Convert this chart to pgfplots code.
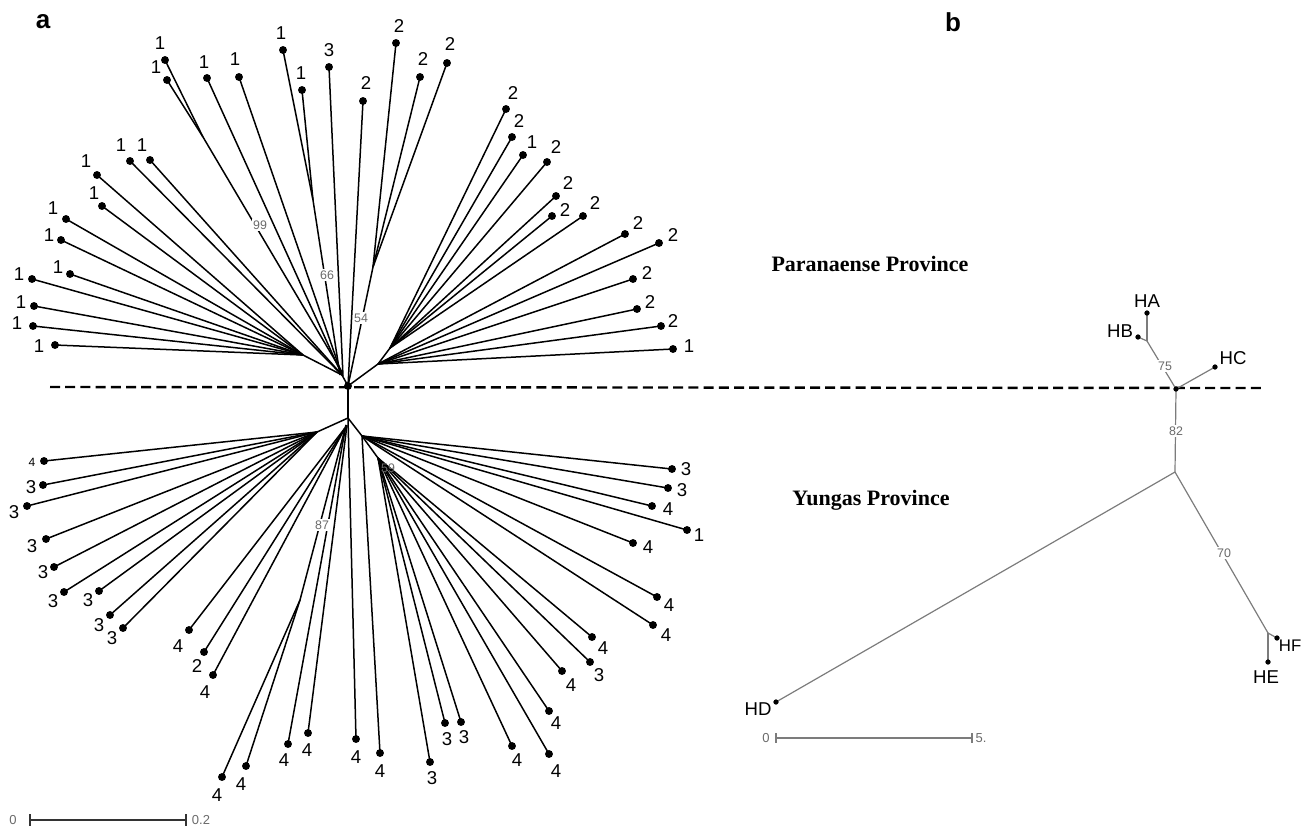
\documentclass[border=0pt]{standalone}
\usepackage{pgfplots}
\pgfplotsset{compat=1.18}
\usepackage{fontspec}
\setmainfont{Liberation Sans}
\newfontfamily\timesb{Liberation Serif}
\definecolor{bsgray}{HTML}{6A6A6A}
\definecolor{trgray}{HTML}{7C7C7C}
\tikzset{
  branch/.style={black, line width=0.75pt},
  branchb/.style={trgray, line width=0.6pt},
  tl/.style={font=\fontsize{9.3}{10}\selectfont, inner sep=0pt, text=black},
  bs/.style={font=\fontsize{6.2}{7}\selectfont, inner sep=0.6pt, text=bsgray, fill=white},
}
\newcommand{\br}[4]{\addplot[branch] coordinates {(#1,#2) (#3,#4)};}
\newcommand{\bb}[4]{\addplot[branchb] coordinates {(#1,#2) (#3,#4)};}
\newcommand{\tl}[3]{\node[tl] at (axis cs:#1,#2) {#3};}

\pgfplotstableread{
x y
165 60
167 80
207 78
239 77
283 50
302 90
329 67
97 175
130 161
150 160
102 206
66 219
61 240
70 274
32 279
34 306
33 326
55 345
363 101
396 43
420 77
447 63
506 109
512 137
523 155
547 162
556 196
552 216
583 216
625 234
659 243
633 279
637 309
661 326
673 349
44 461
43 485
27 506
46 539
54 567
64 592
99 591
110 615
123 628
189 630
204 652
213 675
222 777
246 766
288 744
308 733
356 739
380 753
430 762
445 723
461 722
512 746
549 754
549 711
562 671
590 662
592 637
653 625
657 597
633 543
687 530
652 506
668 488
672 469
348 386
}\leavesA

\pgfplotstableread{
x y
1147 313
1138 337
1215 367
776 702
1268 662
1277 638
1176 389
}\leavesB

\begin{document}
\begin{tikzpicture}
\begin{axis}[
  scale only axis, width=650.5pt, height=413.5pt,
  xmin=0, xmax=1301, ymin=0, ymax=827, y dir=reverse,
  hide axis, clip=true,
]
% ---- dashed separator
\addplot[black, line width=1.2pt, dash pattern=on 5pt off 2.6pt] coordinates {(50,387) (1262,388)};

% ---- tree a : upper (Paranaense)
\br{348}{386}{342}{375}
\br{342}{375}{303}{355}
\br{303}{355}{97}{175}
\br{303}{355}{102}{206}
\br{303}{355}{66}{219}
\br{303}{355}{61}{240}
\br{303}{355}{70}{274}
\br{303}{355}{32}{279}
\br{303}{355}{34}{306}
\br{303}{355}{33}{326}
\br{303}{355}{55}{345}
\br{342}{375}{130}{161}
\br{342}{375}{150}{160}
\br{342}{375}{207}{78}
\br{342}{375}{239}{77}
\br{342}{372}{203}{137}
\br{203}{137}{165}{60}
\br{203}{137}{167}{80}
\br{340}{375}{313}{200}
\br{313}{200}{283}{50}
\br{313}{200}{302}{90}
\br{343}{376}{329}{67}
\br{348}{386}{363}{101}
\br{348}{386}{373}{267}
\br{373}{267}{396}{43}
\br{373}{267}{420}{77}
\br{373}{267}{447}{63}
\br{348}{386}{378}{364}
\br{378}{364}{390}{348}
\br{390}{348}{506}{109}
\br{390}{348}{512}{137}
\br{390}{348}{523}{155}
\br{390}{348}{547}{162}
\br{390}{348}{556}{196}
\br{390}{348}{552}{216}
\br{390}{348}{583}{216}
\br{378}{364}{625}{234}
\br{378}{364}{659}{243}
\br{378}{364}{633}{279}
\br{378}{364}{637}{309}
\br{378}{364}{661}{326}
\br{378}{364}{673}{349}

% ---- tree a : lower (Yungas)
\br{348}{386}{348}{418}
\br{348}{418}{317}{432}
\br{317}{432}{44}{461}
\br{317}{432}{43}{485}
\br{317}{432}{27}{506}
\br{317}{432}{46}{539}
\br{317}{432}{54}{567}
\br{317}{432}{64}{592}
\br{317}{432}{99}{591}
\br{317}{432}{110}{615}
\br{317}{432}{123}{628}
\br{345}{428}{189}{630}
\br{345}{428}{204}{652}
\br{345}{428}{213}{675}
\br{346}{425}{300}{600}
\br{300}{600}{222}{777}
\br{300}{600}{246}{766}
\br{346}{425}{288}{744}
\br{347}{425}{308}{733}
\br{348}{418}{356}{739}
\br{348}{418}{362}{436}
\br{362}{436}{380}{753}
\br{362}{436}{378}{458}
\br{378}{458}{430}{762}
\br{378}{458}{445}{723}
\br{378}{458}{461}{722}
\br{378}{458}{512}{746}
\br{378}{458}{549}{754}
\br{378}{458}{549}{711}
\br{378}{458}{562}{671}
\br{378}{458}{590}{662}
\br{378}{458}{592}{637}
\br{362}{436}{653}{625}
\br{362}{436}{657}{597}
\br{362}{436}{633}{543}
\br{362}{436}{687}{530}
\br{362}{436}{652}{506}
\br{362}{436}{668}{488}
\br{362}{436}{672}{469}

\addplot[only marks, mark=*, mark size=1.75pt, black] table {\leavesA};

% ---- tree b
\bb{1176}{389}{1147}{341}
\bb{1147}{341}{1147}{313}
\bb{1147}{341}{1138}{337}
\bb{1176}{389}{1215}{367}
\bb{1176}{389}{1175}{472}
\bb{1175}{472}{776}{702}
\bb{1175}{472}{1268}{633}
\bb{1268}{633}{1268}{662}
\bb{1268}{633}{1277}{638}
\addplot[only marks, mark=*, mark size=1.1pt, black] table {\leavesB};

% ---- scale bars
\addplot[black!80, line width=0.6pt] coordinates {(30,820) (186,820)};
\addplot[black!80, line width=0.6pt] coordinates {(30,814) (30,826)};
\addplot[black!80, line width=0.6pt] coordinates {(186,814) (186,826)};
\addplot[trgray, line width=0.6pt] coordinates {(776,738) (972,738)};
\addplot[trgray, line width=0.6pt] coordinates {(776,733) (776,743)};
\addplot[trgray, line width=0.6pt] coordinates {(972,733) (972,743)};
\node[font=\fontsize{6.5}{7}\selectfont, text=bsgray] at (axis cs:13,820) {0};
\node[font=\fontsize{6.5}{7}\selectfont, text=bsgray] at (axis cs:201,820) {0.2};
\node[font=\fontsize{6.5}{7}\selectfont, text=bsgray] at (axis cs:766,738) {0};
\node[font=\fontsize{6.5}{7}\selectfont, text=bsgray] at (axis cs:981,738) {5.};

% ---- bootstrap values
\node[bs] at (axis cs:260,225) {99};
\node[bs] at (axis cs:327,275) {66};
\node[bs] at (axis cs:361,318) {54};
\node[bs] at (axis cs:322,525) {87};
\node[bs, fill=none] at (axis cs:388,468) {59};
\node[bs] at (axis cs:1165,366) {75};
\node[bs] at (axis cs:1176,431) {82};
\node[bs] at (axis cs:1224,553) {70};

% ---- panel letters and provinces
\node[font=\fontsize{13}{14}\selectfont\bfseries] at (axis cs:43,22) {a};
\node[font=\fontsize{13}{14}\selectfont\bfseries] at (axis cs:953,22) {b};
\node[font=\timesb\fontsize{11}{12}\selectfont\bfseries] at (axis cs:870,264) {Paranaense Province};
\node[font=\timesb\fontsize{11}{12}\selectfont\bfseries] at (axis cs:871,500) {Yungas Province};

% ---- tip labels, upper
\tl{160}{43}{1}
\tl{156}{67}{1}
\tl{204}{62}{1}
\tl{235}{59}{1}
\tl{281}{33}{1}
\tl{301}{73}{1}
\tl{329}{50}{3}
\tl{86}{161}{1}
\tl{121}{145}{1}
\tl{142}{145}{1}
\tl{94}{193}{1}
\tl{53}{208}{1}
\tl{49}{235}{1}
\tl{58}{267}{1}
\tl{19}{274}{1}
\tl{21}{302}{1}
\tl{17}{323}{1}
\tl{39}{346}{1}
\tl{366}{83}{2}
\tl{399}{26}{2}
\tl{423}{59}{2}
\tl{450}{44}{2}
\tl{513}{93}{2}
\tl{519}{121}{2}
\tl{532}{142}{1}
\tl{556}{147}{2}
\tl{568}{183}{2}
\tl{565}{210}{2}
\tl{595}{203}{2}
\tl{638}{223}{2}
\tl{673}{235}{2}
\tl{647}{273}{2}
\tl{650}{302}{2}
\tl{673}{321}{2}
\tl{689}{346}{1}
% ---- tip labels, lower
\node[tl, font=\fontsize{6}{7}\selectfont] at (axis cs:32,462) {4};
\tl{31}{487}{3}
\tl{14}{512}{3}
\tl{32}{546}{3}
\tl{43}{572}{3}
\tl{53}{601}{3}
\tl{88}{600}{3}
\tl{99}{625}{3}
\tl{112}{638}{3}
\tl{178}{646}{4}
\tl{197}{666}{2}
\tl{205}{692}{4}
\tl{217}{795}{4}
\tl{241}{784}{4}
\tl{284}{760}{4}
\tl{307}{750}{4}
\tl{356}{757}{4}
\tl{380}{771}{4}
\tl{432}{778}{3}
\tl{447}{739}{3}
\tl{464}{737}{3}
\tl{517}{760}{4}
\tl{556}{771}{4}
\tl{556}{723}{4}
\tl{571}{685}{4}
\tl{599}{675}{3}
\tl{603}{648}{4}
\tl{666}{635}{4}
\tl{669}{605}{4}
\tl{648}{547}{4}
\tl{699}{535}{1}
\tl{668}{509}{4}
\tl{682}{490}{3}
\tl{686}{469}{3}
% ---- tree b labels
\tl{1147}{301}{HA}
\tl{1120}{331}{HB}
\tl{1233}{358}{HC}
\tl{758}{709}{HD}
\tl{1266}{677}{HE}
\node[tl, anchor=west, font=\fontsize{8.4}{9}\selectfont] at (axis cs:1278.5,646) {HF};
\end{axis}
\pgfresetboundingbox
\path (current axis.south west) rectangle (current axis.north east);
\end{tikzpicture}
\end{document}
